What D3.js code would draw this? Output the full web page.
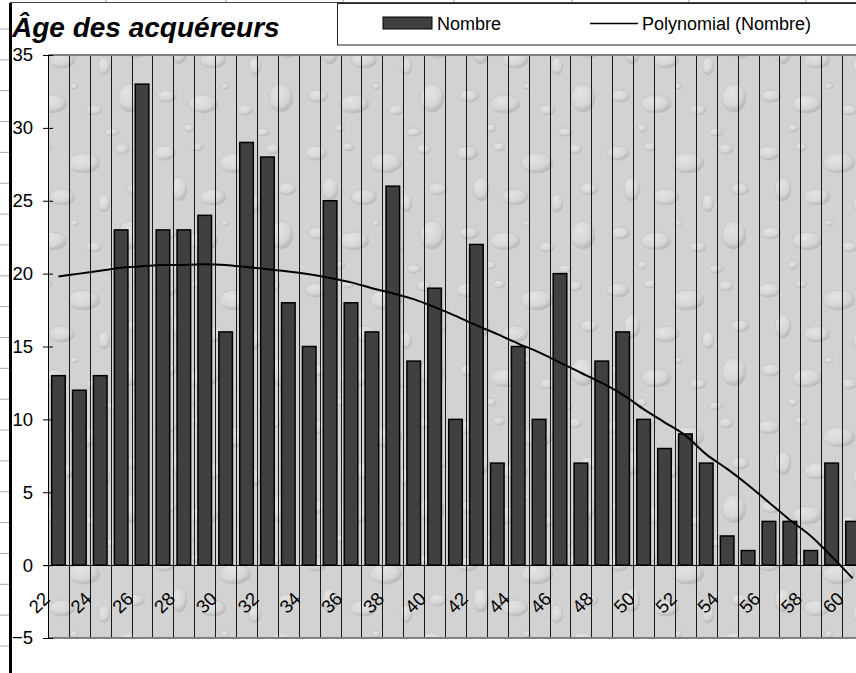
<!DOCTYPE html>
<html>
<head>
<meta charset="utf-8">
<title>Âge des acquéreurs</title>
<script src="https://cdn.jsdelivr.net/npm/d3@7"></script>
<style>
body { margin: 0; background: #fff; }
svg { display: block; font-family: "Liberation Sans", Arial, sans-serif; }
</style>
</head>
<body>
<div id="visContainer"></div>
<script>
'use strict';  //treat silly mistakes as run-time errors

var AGES = [22, 23, 24, 25, 26, 27, 28, 29, 30, 31, 32, 33, 34, 35, 36, 37, 38, 39, 40, 41,
            42, 43, 44, 45, 46, 47, 48, 49, 50, 51, 52, 53, 54, 55, 56, 57, 58, 59, 60];
var NOMBRE = [13, 12, 13, 23, 33, 23, 23, 24, 16, 29, 28, 18, 15, 25, 18, 16, 26, 14, 19, 10,
              22, 7, 15, 10, 20, 7, 14, 16, 10, 8, 9, 7, 2, 1, 3, 3, 1, 7, 3];
// trend line ("Polynomial (Nombre)")
var TREND = [19.8, 20.0, 20.2, 20.4, 20.5, 20.6, 20.6, 20.65, 20.6, 20.45, 20.3, 20.15, 19.95, 19.7, 19.4,
             19.0, 18.65, 18.25, 17.7, 17.1, 16.45, 15.85, 15.2, 14.6, 13.9, 13.2, 12.5, 11.7, 10.7, 9.8,
             8.9, 7.6, 6.6, 5.5, 4.3, 3.1, 2.0, 0.6, -0.9];
var Y_TICKS = [-5, 0, 5, 10, 15, 20, 25, 30, 35];
var X_LABELS = [22, 24, 26, 28, 30, 32, 34, 36, 38, 40, 42, 44, 46, 48, 50, 52, 54, 56, 58, 60];
var TITLE = "Âge des acquéreurs";
var SERIES_NAME = "Nombre";
var TREND_NAME = "Polynomial (Nombre)";

function draw_chart() {
    var width = 856, height = 673;
    var plot = {left: 48, top: 55, right: 863, bottom: 638};

    var svg = d3.select('#visContainer')
        .append('svg')
        .attr('width', width)
        .attr('height', height);

    // water drops texture for the plot area
    var defs = svg.append('defs');
    var grad = defs.append('radialGradient').attr('id', 'dropGrad')
        .attr('cx', '38%').attr('cy', '32%').attr('r', '70%');
    grad.append('stop').attr('offset', '0%').attr('stop-color', '#e4e4e4');
    grad.append('stop').attr('offset', '65%').attr('stop-color', '#d6d6d6');
    grad.append('stop').attr('offset', '100%').attr('stop-color', '#b5b5b5');
    var pat = defs.append('pattern').attr('id', 'drops')
        .attr('patternUnits', 'userSpaceOnUse')
        .attr('width', 151).attr('height', 137);
    pat.append('rect').attr('width', 151).attr('height', 137).attr('fill', '#d2d2d2');
    var drops = [[14, 16, 11, 7], [46, 10, 6, 4], [84, 26, 16, 10], [122, 12, 7, 5], [28, 52, 8, 12],
                 [62, 60, 13, 8], [104, 66, 6, 9], [136, 52, 9, 6], [16, 96, 10, 6], [52, 104, 15, 9],
                 [94, 110, 8, 5], [130, 98, 12, 14], [38, 128, 5, 4], [112, 132, 7, 4], [74, 86, 4, 3]];
    pat.selectAll('ellipse').data(drops).enter().append('ellipse')
        .attr('cx', function(d) { return d[0]; })
        .attr('cy', function(d) { return d[1]; })
        .attr('rx', function(d) { return d[2]; })
        .attr('ry', function(d) { return d[3]; })
        .attr('fill', 'url(#dropGrad)')
        .attr('stroke', '#c2c2c2')
        .attr('stroke-width', 0.7);

    // spreadsheet leftovers around the chart
    var rows = d3.range(0, 21).map(function(i) { return 29 + i * 30.85; });
    svg.selectAll('.row-mark').data(rows).enter().append('line')
        .attr('x1', 0).attr('x2', 9)
        .attr('y1', function(d) { return d; }).attr('y2', function(d) { return d; })
        .attr('stroke', '#aaa');
    var cols = [106, 226, 343, 454, 572, 689, 806];
    svg.selectAll('.col-mark').data(cols).enter().append('line')
        .attr('x1', function(d) { return d; }).attr('x2', function(d) { return d; })
        .attr('y1', 0).attr('y2', 2)
        .attr('stroke', '#999');
    svg.append('line').attr('x1', 10).attr('x2', width).attr('y1', 2.5).attr('y2', 2.5)
        .attr('stroke', '#444');
    svg.append('line').attr('x1', 10.5).attr('x2', 10.5).attr('y1', 3).attr('y2', height)
        .attr('stroke', '#000').attr('stroke-width', 3);

    var y = d3.scaleLinear().domain([-5, 35]).range([plot.bottom, plot.top]);
    var xCell = d3.scaleBand().domain(AGES).range([plot.left, plot.right]);
    var x = d3.scaleBand().domain(AGES).range([plot.left, plot.right])
        .paddingInner(0.35).paddingOuter(0.175);

    svg.append('rect')
        .attr('x', plot.left).attr('y', plot.top)
        .attr('width', plot.right - plot.left).attr('height', plot.bottom - plot.top)
        .attr('fill', 'url(#drops)');

    // category separators
    svg.selectAll('.vgrid').data(AGES).enter().append('line')
        .attr('x1', function(d) { return Math.round(xCell(d)) + 0.5; })
        .attr('x2', function(d) { return Math.round(xCell(d)) + 0.5; })
        .attr('y1', plot.top).attr('y2', plot.bottom)
        .attr('stroke', '#1a1a1a');

    svg.append('line').attr('x1', plot.left).attr('x2', plot.right)
        .attr('y1', plot.top).attr('y2', plot.top)
        .attr('stroke', '#808080').attr('stroke-width', 2);
    svg.append('line').attr('x1', plot.left).attr('x2', plot.right)
        .attr('y1', plot.bottom).attr('y2', plot.bottom)
        .attr('stroke', '#808080').attr('stroke-width', 2);

    // bars
    var bars = AGES.map(function(a, i) { return {age: a, v: NOMBRE[i]}; });
    svg.selectAll('.bar').data(bars).enter().append('rect')
        .attr('class', 'bar')
        .attr('x', function(d) { return x(d.age); })
        .attr('y', function(d) { return y(d.v); })
        .attr('width', x.bandwidth())
        .attr('height', function(d) { return y(0) - y(d.v); })
        .attr('fill', '#404040')
        .attr('stroke', '#000')
        .attr('stroke-width', 1.5);

    // y axis with crossing ticks
    var yAxis = svg.append('g')
        .attr('transform', 'translate(' + plot.left + ',0)')
        .call(d3.axisLeft(y).tickValues(Y_TICKS).tickSizeInner(5).tickSizeOuter(0).tickPadding(10));
    yAxis.select('.domain').attr('stroke', '#000');
    yAxis.selectAll('.tick line').attr('x1', 5).attr('x2', -5).attr('stroke', '#000');
    yAxis.selectAll('.tick text')
        .attr('font-family', '"Liberation Sans", Arial, sans-serif')
        .attr('font-size', 18.5).attr('fill', '#000');

    // zero line
    svg.append('line').attr('x1', plot.left - 5).attr('x2', plot.right)
        .attr('y1', Math.round(y(0)) + 0.5).attr('y2', Math.round(y(0)) + 0.5)
        .attr('stroke', '#000');

    // category labels, rotated
    svg.selectAll('.xlabel').data(X_LABELS).enter().append('text')
        .attr('transform', function(d) { return 'translate(' + (xCell(d) + 3) + ',600) rotate(-45)'; })
        .attr('text-anchor', 'end')
        .attr('font-size', 18.5)
        .text(function(d) { return d; });

    // trend line
    var trendPts = AGES.map(function(a, i) { return [x(a) + x.bandwidth() / 2, y(TREND[i])]; });
    svg.append('path')
        .attr('d', d3.line().curve(d3.curveMonotoneX)(trendPts))
        .attr('fill', 'none')
        .attr('stroke', '#000')
        .attr('stroke-width', 2);

    // title
    svg.append('text')
        .attr('x', 12).attr('y', 37)
        .attr('font-size', 28)
        .attr('font-weight', 'bold')
        .attr('font-style', 'italic')
        .text(TITLE);

    // legend
    var lg = svg.append('g');
    lg.append('rect').attr('x', 337.5).attr('y', 3.5).attr('width', 540).attr('height', 41.5)
        .attr('fill', '#fff').attr('stroke', '#222');
    lg.append('rect').attr('x', 383).attr('y', 17).attr('width', 49).attr('height', 12)
        .attr('fill', '#404040').attr('stroke', '#000');
    lg.append('text').attr('x', 437).attr('y', 30).attr('font-size', 18).text(SERIES_NAME);
    lg.append('line').attr('x1', 590).attr('x2', 638).attr('y1', 23.5).attr('y2', 23.5)
        .attr('stroke', '#000').attr('stroke-width', 1.5);
    lg.append('text').attr('x', 642).attr('y', 30).attr('font-size', 18).text(TREND_NAME);
}

draw_chart();
</script>
</body>
</html>
